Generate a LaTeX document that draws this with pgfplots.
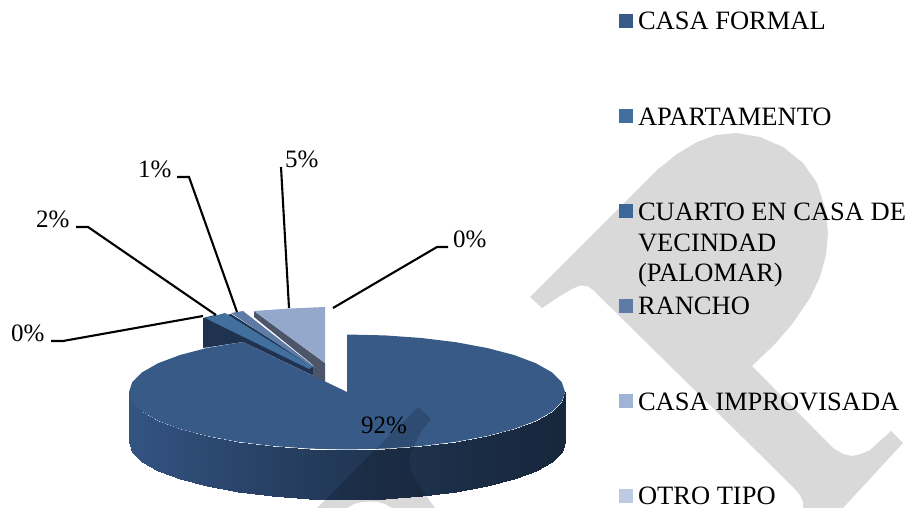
\documentclass[border=0pt]{standalone}
\usepackage{pgfplots}
\pgfplotsset{compat=1.18}
\usepackage{fontspec}
\setmainfont{Liberation Serif}
\definecolor{sideL}{HTML}{345584}
\definecolor{sideR}{HTML}{17273C}
\definecolor{cFormal}{HTML}{375A87}
\definecolor{cApto}{HTML}{41709F}
\definecolor{cCuarto}{HTML}{3D6699}
\definecolor{cRancho}{HTML}{5E7BA8}
\definecolor{cImpro}{HTML}{94A8CC}
\definecolor{cImproL}{HTML}{9FB3D4}
\definecolor{cOtro}{HTML}{BDCBE2}
\definecolor{cDark}{HTML}{1F3350}
\definecolor{cGrey}{HTML}{4D5568}
\tikzset{lab/.style={anchor=base west,inner sep=0pt,outer sep=0pt,font=\fontsize{25}{30}\selectfont},
 leg/.style={anchor=base west,inner sep=0pt,outer sep=0pt,font=\fontsize{26.5}{30}\selectfont}}
\pgfplotsset{key/.style={only marks,mark=square*,mark size=6.6pt,color=#1,mark options={solid,fill=#1,draw=#1,line width=0pt}},
 lead/.style={black,line width=2.1pt}}
\begin{document}
\begin{tikzpicture}
\useasboundingbox (0,0) rectangle (912pt,508pt);
\begin{axis}[
  at={(0,0)},anchor=south west,
  scale only axis, width=912pt, height=508pt,
  xmin=0, xmax=912, ymin=0, ymax=508, y dir=reverse,
  hide axis, clip=true,
  colormap={side}{color=(sideR) color=(sideL)},
  point meta min=0, point meta max=100]
% side of the main slice
\addplot[surf,shader=interp,mesh/rows=19,mesh/cols=2,point meta=explicit] table[x=x,y=y,meta=m] {
x y m
565 392 0
565 442 0
561.7 402 0
561.7 452 0
551.9 411.7 1
551.9 461.7 1
535.8 420.8 3
535.8 470.8 3
514 429 6
514 479 6
487.1 436 10
487.1 486 10
456 441.8 15
456 491.8 15
421.6 446 22
421.6 496 22
384.9 448.6 28
384.9 498.6 28
347 449.5 36
347 499.5 36
309.1 448.6 45
309.1 498.6 45
272.4 446 55
272.4 496 55
238 441.8 65
238 491.8 65
206.9 436 74
206.9 486 74
180 429 82
180 479 82
158.2 420.8 88
158.2 470.8 88
142.1 411.7 93
142.1 461.7 93
132.3 402 97
132.3 452 97
129 392 100
129 442 100
};
% small slices, back to front
\addplot[fill=cDark,draw=none] coordinates {(203,318) (215,315) (314,367) (314,376) (243,342) (203,348)} -- cycle;
\addplot[fill=cGrey,draw=none] coordinates {(254,311) (254,317) (313,365) (313,381) (325,383) (325,363)} -- cycle;
\addplot[fill=cImpro,draw=none] coordinates {(254,311) (290,308.5) (325,307) (325,363)} -- cycle;
\addplot[fill=cDark,draw=none] coordinates {(226,315) (231,314) (316,368) (312,368)} -- cycle;
\addplot[fill=cRancho,draw=none] coordinates {(231,313) (243,311) (316,368) (312,367)} -- cycle;
\addplot[fill=cApto,draw=none] coordinates {(205,318) (214,316) (225,313) (312,367) (309,369)} -- cycle;
% top of the main slice
\addplot[fill=cFormal,draw=none] coordinates {(347,392) (347,334.5) (384.9,335.4) (421.6,338) (456,342.2) (487.1,348) (514,355) (535.8,363.2) (551.9,372.3) (561.7,382) (565,392)
 (561.7,402) (551.9,411.7) (535.8,420.8) (514,429) (487.1,436) (456,441.8) (421.6,446) (384.9,448.6) (347,449.5) (309.1,448.6) (272.4,446) (238,441.8) (206.9,436) (180,429) (158.2,420.8) (142.1,411.7) (132.3,402) (129,392)
 (132.3,382) (142.1,372.3) (158.2,363.2) (180,355) (206.9,348) (243,342)} -- cycle;
% leader lines
\addplot[lead] coordinates {(51,341) (63,341) (203,316)};
\addplot[lead] coordinates {(76,227) (88,227) (216,315)};
\addplot[lead] coordinates {(177,177) (189,177) (237,312)};
\addplot[lead] coordinates {(281,167) (289,308)};
\addplot[lead] coordinates {(333,308) (437,247) (448,247)};
% legend keys
\addplot[key=cFormal] coordinates {(626,21)};
\addplot[key=cApto] coordinates {(626,116)};
\addplot[key=cCuarto] coordinates {(626,211)};
\addplot[key=cRancho] coordinates {(626,306)};
\addplot[key=cImproL] coordinates {(626,401)};
\addplot[key=cOtro] coordinates {(626,496)};
% labels
\node[leg] at (axis cs:638,30) {CASA FORMAL};
\node[leg] at (axis cs:638,125) {APARTAMENTO};
\node[leg] at (axis cs:638,220) {CUARTO EN CASA DE};
\node[leg] at (axis cs:638,251) {VECINDAD};
\node[leg] at (axis cs:638,281) {(PALOMAR)};
\node[leg] at (axis cs:638,314) {RANCHO};
\node[leg] at (axis cs:638,410) {CASA IMPROVISADA};
\node[leg] at (axis cs:638,504) {OTRO TIPO};
\node[lab] at (axis cs:361,433) {92\%};
\node[lab] at (axis cs:138,177) {1\%};
\node[lab] at (axis cs:36,227) {2\%};
\node[lab] at (axis cs:285,167) {5\%};
\node[lab] at (axis cs:453,247) {0\%};
\node[lab] at (axis cs:11,341) {0\%};
% watermark
\addplot[fill=black,fill opacity=0.15,draw=none] coordinates {(530,297) (542,308) (560,296) (572,289) (580,285.5) (587,286) (593,290) (793,487) (800,495) (803,502) (803,508) (843,508) (903,443) (891,431) (870,450) (861,454) (852,456) (843,454) (833,448) (752,366)
 (775,344) (793,323) (810,298) (820,277) (826,255) (828,233) (825,208) (817,183) (803,163) (783,147) (760,137) (737,133) (716,135) (697,142) (677,154) (657,170)
 (530,297)
 (620,235) (735,350) (767,320) (778,305) (783,290) (785,270) (783,250) (775,229) (763,210) (749,197) (733,188) (715,183) (697,183) (678,190) (660,200) (620,235)
 (530,297)} -- cycle;
\addplot[fill=black,fill opacity=0.15,draw=none] coordinates {(418,407) (431,419) (423,429) (417,440) (411,452) (409,462) (411,471) (415,480) (435,508) (392,508) (385,504) (378,502) (370,501.5) (362,502) (354,504) (347,508) (317,508)} -- cycle;
\end{axis}
\end{tikzpicture}
\end{document}
